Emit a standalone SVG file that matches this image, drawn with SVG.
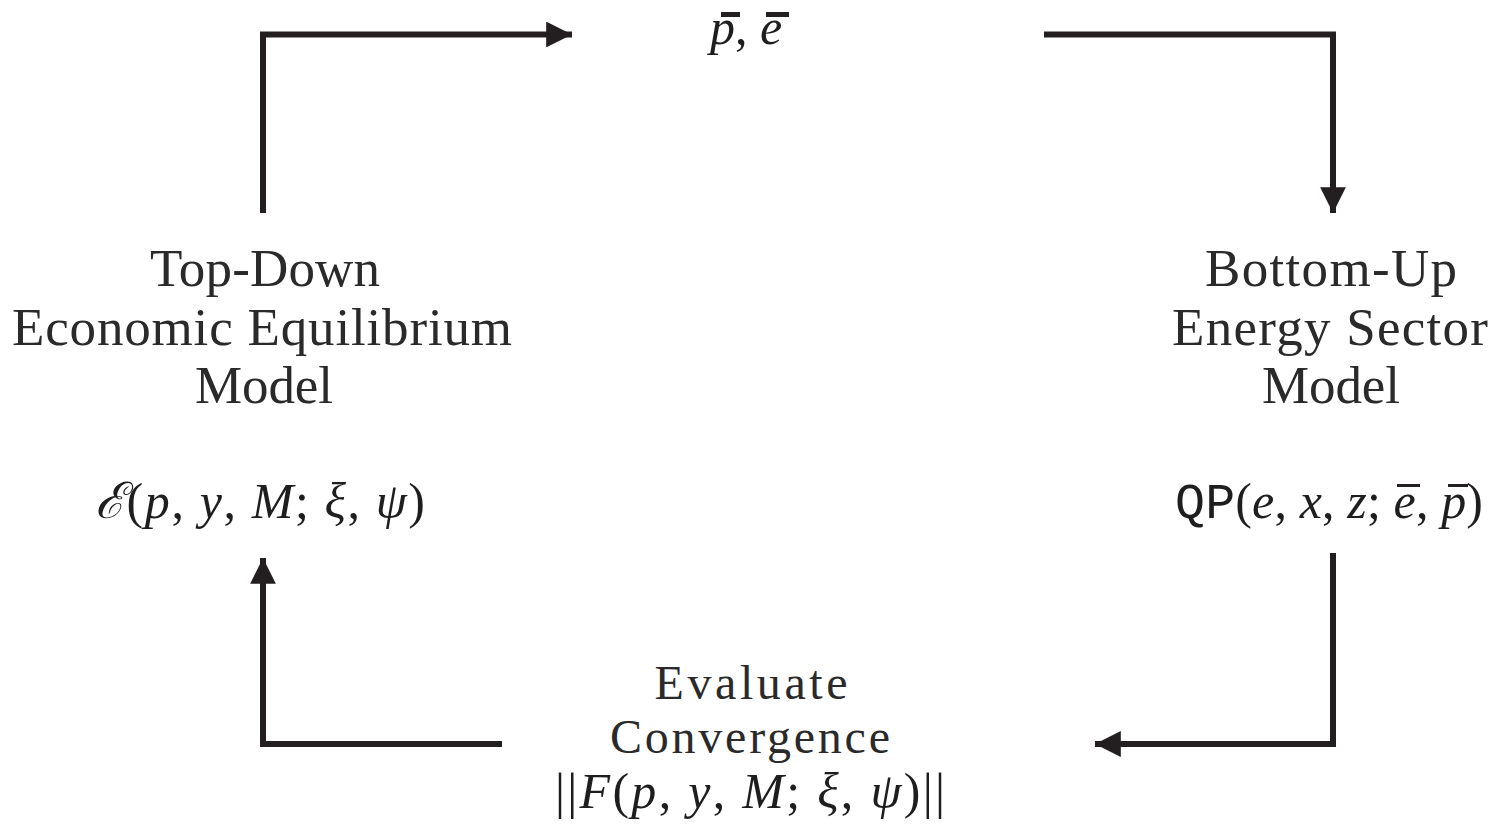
<svg xmlns="http://www.w3.org/2000/svg" width="1491" height="826" viewBox="0 0 1491 826">
<defs>
<style>
.lbl{font-family:"Liberation Serif","DejaVu Serif",serif;font-size:53px;fill:#2a2a2a;text-anchor:middle}
.lbl2{font-family:"Liberation Serif","DejaVu Serif",serif;font-size:48px;fill:#2a2a2a;text-anchor:middle}
.math{font-family:"Liberation Serif","DejaVu Serif",serif;font-size:50px;fill:#1e1e1e}
.it{font-style:italic}
.tt{font-family:"Liberation Mono","DejaVu Sans Mono",monospace}
.conn{fill:none;stroke:#231f20;stroke-width:6}
.bar{fill:#231f20}
</style>
<marker id="ah" viewBox="0 0 10 10" refX="10" refY="5" markerWidth="6" markerHeight="4.3" markerUnits="strokeWidth" orient="auto">
<path d="M0,0 L10,5 L0,10 z" fill="#231f20"/>
</marker>
</defs>
<rect width="1491" height="826" fill="#ffffff"/>
<g id="connectors">
<path class="conn" d="M263,213 V34.5 H572" marker-end="url(#ah)"/>
<path class="conn" d="M1044,34.5 H1333 V213" marker-end="url(#ah)"/>
<path class="conn" d="M1333,553 V744 H1095" marker-end="url(#ah)"/>
<path class="conn" d="M502,744 H263 V558" marker-end="url(#ah)"/>
</g>
<g id="node-top">
<text class="math it" x="710" y="44" font-size="48">p<tspan font-style="normal">,</tspan> e</text>
<rect class="bar" x="721" y="12" width="19" height="5"/>
<rect class="bar" x="766" y="12" width="23" height="5"/>
</g>
<g id="node-topdown">
<text class="lbl" x="265" y="286" textLength="230">Top-Down</text>
<text class="lbl" x="262" y="345" textLength="500">Economic Equilibrium</text>
<text class="lbl" x="264" y="403" textLength="138">Model</text>
<text class="math" x="95" y="518" textLength="330"><tspan class="it">ℰ</tspan>(<tspan class="it">p</tspan>, <tspan class="it">y</tspan>, <tspan class="it">M</tspan>; <tspan class="it">ξ</tspan>, <tspan class="it">ψ</tspan>)</text>
</g>
<g id="node-bottomup">
<text class="lbl" x="1331" y="286" textLength="252">Bottom-Up</text>
<text class="lbl" x="1330" y="345" textLength="316">Energy Sector</text>
<text class="lbl" x="1331" y="403" textLength="138">Model</text>
<text class="math" x="1175" y="518" textLength="308"><tspan class="tt">QP</tspan>(<tspan class="it">e</tspan>, <tspan class="it">x</tspan>, <tspan class="it">z</tspan>; <tspan class="it">e</tspan>, <tspan class="it">p</tspan>)</text>
<rect class="bar" x="1397" y="484" width="23" height="3"/>
<rect class="bar" x="1448" y="484" width="20" height="3"/>
</g>
<g id="node-evaluate">
<text class="lbl2" x="751" y="699" textLength="193">Evaluate</text>
<text class="lbl2" x="750" y="753" textLength="280">Convergence</text>
<text class="math" x="555" y="808" textLength="390">||<tspan class="it">F</tspan>(<tspan class="it">p</tspan>, <tspan class="it">y</tspan>, <tspan class="it">M</tspan>; <tspan class="it">ξ</tspan>, <tspan class="it">ψ</tspan>)||</text>
</g>
</svg>
